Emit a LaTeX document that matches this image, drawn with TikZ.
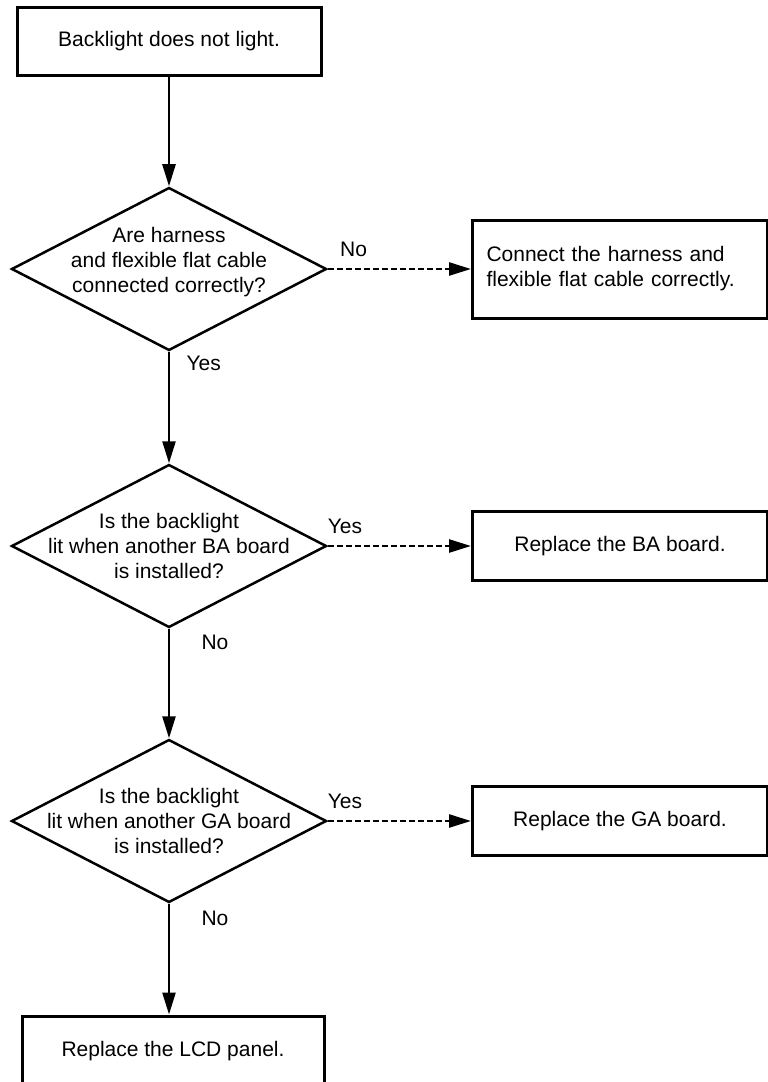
\documentclass[tikz,border=0pt]{standalone}
\usepackage{fontspec}
\setmainfont{Liberation Sans}
\usepackage{tikz}
\usetikzlibrary{positioning, shapes.geometric, arrows.meta}

\begin{document}
\begin{tikzpicture}[
                  every node/.style={font=\fontsize{21}{25}\selectfont},
                  process/.style={rectangle, draw, line width=3pt, minimum width=304pt, minimum height=68pt, align=center},
                  decision/.style={diamond, draw, line width=2.5pt, aspect=1.93, minimum width=315pt, minimum height=163pt, inner sep=-12pt, align=center},
                  arrow/.style={line width=2.5pt, -{Triangle[length=22pt, width=13pt]}},
                  dasharrow/.style={arrow, dash pattern=on 6pt off 3pt}
            ]
            \clip (0,0) rectangle (768pt,-1082pt);

            % Nodes
            \node (start) [process] at (169pt,-41pt) {Backlight does not light.};
            \node (harness) [decision, node distance=228pt, below of=start, text depth=18pt] {Are harness\\and flexible flat cable\\connected correctly?};
            \node (connect) [process, node distance=451pt, right of=harness, minimum width=0pt, text width=267pt, inner xsep=14pt, minimum height=98pt, align=left] {Connect the harness and\\flexible flat cable correctly.};
            \node (baboard) [decision, node distance=277pt, below of=harness] {Is the backlight\\lit when another BA board\\is installed?};
            \node (replaceba) [process, node distance=451pt, right of=baboard, minimum width=295pt, minimum height=69pt] {Replace the BA board.};
            \node (gaboard) [decision, node distance=275pt, below of=baboard] {Is the backlight\\lit when another GA board\\is installed?};
            \node (replacega) [process, node distance=451pt, right of=gaboard, minimum width=295pt, minimum height=69pt] {Replace the GA board.};
            \node (lcd) [process, node distance=230pt, below of=gaboard, xshift=4pt, minimum width=302pt, minimum height=70pt] {Replace the LCD panel.};

            % Arrows
            \draw [arrow] (start) -- (harness);
            \draw [arrow] (harness) -- node[pos=0.1, right=13pt] {Yes} (baboard);
            \draw [arrow] (baboard) -- node[pos=0.12, right=28pt] {No} (gaboard);
            \draw [arrow] (gaboard.south) -- node[pos=0.13, right=28pt] {No} (gaboard.south |- lcd.north);

            % Dashed arrows to the right
            \draw [dasharrow] (harness.east) -- node[pos=0.18, above=8pt] {No} (connect);
            \draw [dasharrow] (baboard.east) -- node[pos=0.12, above=8pt] {Yes} (baboard.east -| replaceba.west);
            \draw [dasharrow] (gaboard.east) -- node[pos=0.12, above=8pt] {Yes} (gaboard.east -| replacega.west);

      \end{tikzpicture}
\end{document}
